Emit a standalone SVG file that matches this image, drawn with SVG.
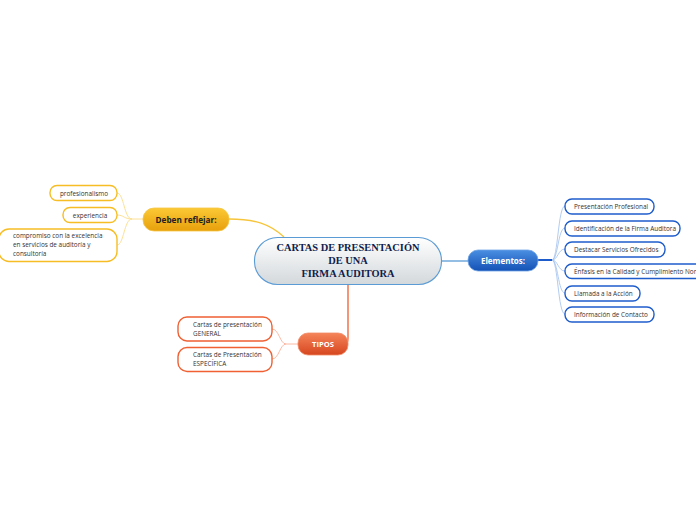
<svg xmlns="http://www.w3.org/2000/svg" width="696" height="520" viewBox="0 0 696 520">
<defs>
<linearGradient id="gC" x1="0" y1="0" x2="0" y2="1"><stop offset="0" stop-color="#ffffff"/><stop offset="1" stop-color="#d3d8db"/></linearGradient>
<linearGradient id="gY" x1="0" y1="0" x2="0" y2="1"><stop offset="0" stop-color="#fbc935"/><stop offset="1" stop-color="#e7a00c"/></linearGradient>
<linearGradient id="gR" x1="0" y1="0" x2="0" y2="1"><stop offset="0" stop-color="#f5845a"/><stop offset="1" stop-color="#d6461f"/></linearGradient>
<linearGradient id="gB" x1="0" y1="0" x2="0" y2="1"><stop offset="0" stop-color="#4a8fe2"/><stop offset="1" stop-color="#1451b5"/></linearGradient>
</defs>
<style>
.leaf{fill:#fff;stroke-width:1.4}
.ly{stroke:#f7bd25}
.lr{stroke:#f06033}
.lb{stroke:#1e5ccc}
.t{font-family:"Open Sans","Liberation Sans",sans-serif;font-size:6.4px;fill:#333}
.c{fill:none}
</style>
<g id="connectors" class="c">
<path d="M229,219 C255,219 270,224 284,237" stroke="#f7c53a" stroke-width="1.3"/>
<path d="M143,219 L132,219 C124,219 124,193 117,193" stroke="#fcdc8a" stroke-width="0.9"/>
<path d="M132,219 C124,219 124,215 117,215" stroke="#fcdc8a" stroke-width="0.9"/>
<path d="M132,219 C124,219 124,245 117,245" stroke="#fcdc8a" stroke-width="0.9"/>
<path d="M348,285 L348,338 C348,342 347,344 345,344" stroke="#ef6a3f" stroke-width="1.4"/>
<path d="M298,344 L286,344 C280,344 279,329 272,329" stroke="#f9b29a" stroke-width="0.9"/>
<path d="M286,344 C280,344 279,359 272,359" stroke="#f9b29a" stroke-width="0.9"/>
<path d="M442,261 L468,261" stroke="#5b9bd5" stroke-width="1.3"/>
<path d="M537,260 L552,260" stroke="#1e5ccc" stroke-width="2"/>
<path d="M552,260 C558,260 558,206 565,206" stroke="#a9c6ee" stroke-width="0.9"/>
<path d="M552,260 C558,260 558,228 565,228" stroke="#a9c6ee" stroke-width="0.9"/>
<path d="M552,260 C558,260 558,249 565,249" stroke="#a9c6ee" stroke-width="0.9"/>
<path d="M552,260 C558,260 558,271 565,271" stroke="#a9c6ee" stroke-width="0.9"/>
<path d="M552,260 C558,260 558,293 565,293" stroke="#a9c6ee" stroke-width="0.9"/>
<path d="M552,260 C558,260 558,314 565,314" stroke="#a9c6ee" stroke-width="0.9"/>
</g>
<g id="central">
<rect x="254.5" y="237.5" width="187" height="47" rx="23" fill="url(#gC)" stroke="#5b9bd5" stroke-width="1.1"/>
<g font-family="'Liberation Serif',serif" font-weight="bold" font-size="10.4" fill="#0f1d4d" text-anchor="middle">
<text x="348" y="251">CARTAS DE PRESENTACIÓN</text>
<text x="348" y="264">DE UNA</text>
<text x="348" y="277">FIRMA AUDITORA</text>
</g>
</g>
<g id="deben">
<rect x="143" y="208" width="86" height="23" rx="11" fill="url(#gY)" stroke="#f5c544" stroke-width="0.8"/>
<text x="186" y="222.5" text-anchor="middle" font-family="'Open Sans','Liberation Sans',sans-serif" font-weight="bold" font-size="8.2" fill="#222">Deben reflejar:</text>
</g>
<g id="profesionalismo"><rect class="leaf ly" x="50" y="185.5" width="67" height="15" rx="7"/><text class="t" x="84" y="195.5" text-anchor="middle">profesionalismo</text></g>
<g id="experiencia"><rect class="leaf ly" x="63" y="207.5" width="54" height="15" rx="7"/><text class="t" x="90" y="217.5" text-anchor="middle">experiencia</text></g>
<g id="compromiso"><rect class="leaf ly" x="-1" y="229" width="118" height="32.5" rx="10"/><text class="t" x="13" y="238">compromiso con la excelencia</text><text class="t" x="13" y="247">en servicios de auditoría y</text><text class="t" x="13" y="256">consultoría</text></g>
<g id="tipos">
<rect x="298" y="333" width="50" height="22" rx="10" fill="url(#gR)" stroke="#f28a66" stroke-width="0.8"/>
<text x="323" y="347" text-anchor="middle" font-family="'Open Sans','Liberation Sans',sans-serif" font-weight="bold" font-size="7.6" fill="#fff">TIPOS</text>
</g>
<g id="general"><rect class="leaf lr" x="178" y="317" width="94" height="24" rx="9"/><text class="t" x="193" y="327">Cartas de presentación</text><text class="t" x="193" y="336">GENERAL</text></g>
<g id="especifica"><rect class="leaf lr" x="178" y="347.5" width="94" height="24" rx="9"/><text class="t" x="193" y="357">Cartas de Presentación</text><text class="t" x="193" y="366">ESPECÍFICA</text></g>
<g id="elementos">
<rect x="468" y="250" width="70" height="21" rx="10" fill="url(#gB)" stroke="#6fa3e6" stroke-width="0.8"/>
<text x="503" y="263.5" text-anchor="middle" font-family="'Open Sans','Liberation Sans',sans-serif" font-weight="bold" font-size="8" fill="#fff">Elementos:</text>
</g>
<g id="e1"><rect class="leaf lb" x="565" y="199" width="89" height="15" rx="7"/><text class="t" x="574" y="208.5">Presentación Profesional</text></g>
<g id="e2"><rect class="leaf lb" x="565" y="221" width="115" height="15" rx="7"/><text class="t" x="574" y="230.5">Identificación de la Firma Auditora</text></g>
<g id="e3"><rect class="leaf lb" x="565" y="242" width="100" height="15" rx="7"/><text class="t" x="574" y="251.5">Destacar Servicios Ofrecidos</text></g>
<g id="e4"><rect class="leaf lb" x="565" y="264" width="150" height="14.5" rx="7"/><text class="t" x="574" y="273.5" font-size="6.1">Énfasis en la Calidad y Cumplimiento Normativo</text></g>
<g id="e5"><rect class="leaf lb" x="565" y="286" width="75" height="15" rx="7"/><text class="t" x="574" y="295.5">Llamada a la Acción</text></g>
<g id="e6"><rect class="leaf lb" x="565" y="307" width="89" height="15" rx="7"/><text class="t" x="574" y="316.5">Información de Contacto</text></g>
</svg>
